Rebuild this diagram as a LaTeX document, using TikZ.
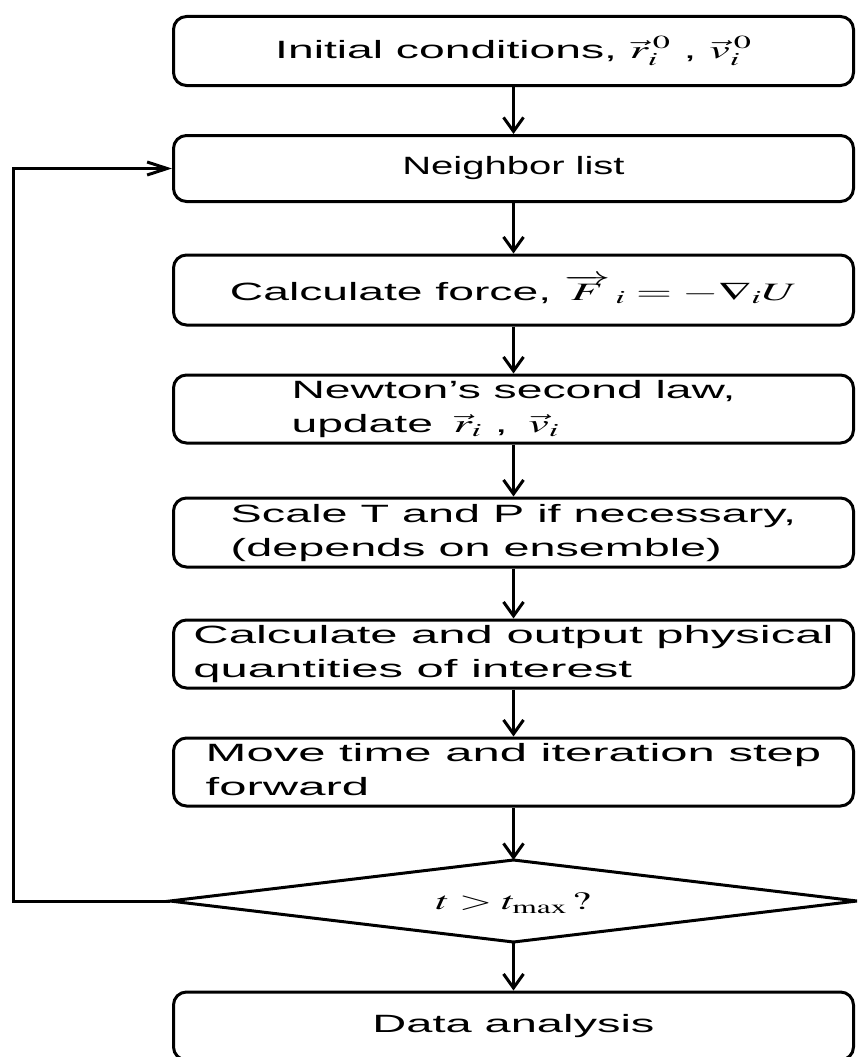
\documentclass[tikz,border=0pt]{standalone}
\usepackage{mathptmx}
\usepackage[no-math]{fontspec}
\setmainfont{Liberation Sans}
\usepackage{graphicx}
\usetikzlibrary{arrows.meta}

% horizontally widened lettering
\newcommand{\wtext}[2][1.85]{\scalebox{#1}[1]{#2}}
\newcommand{\wlines}[2][1.85]{\scalebox{#1}[1]{\begin{tabular}{@{}l@{}}#2\end{tabular}}}

\tikzset{
  stepbox/.style={draw, line width=3pt, rounded corners=13pt,
    minimum width=680pt, minimum height=68pt, inner sep=0pt,
    font=\fontsize{25}{34}\selectfont},
  flow/.style={line width=3pt,
    -{Straight Barb[length=14pt,width=20pt,line width=3pt]}},
  back/.style={line width=3pt,
    -{Straight Barb[length=20pt,width=13pt,line width=3pt]}},
  testline/.style={line width=3pt, line join=miter},
}

\begin{document}
\begin{tikzpicture}[x=1pt,y=-1pt]
\useasboundingbox (0,0) rectangle (857,1057);
\clip (0,0) rectangle (857,1057);

% process steps
\node[stepbox, minimum height=69pt] (b1) at (513.5,51)
  {\wtext{Initial conditions, $\vec{r}^{\,0}_{i}$ , $\vec{v}^{\,0}_{i}$}};
\node[stepbox, minimum height=66pt] (b2) at (513.5,168.5)
  {\wtext[1.6]{Neighbor list}};
\node[stepbox, minimum height=70pt] (b3) at (513.5,290)
  {\wtext{Calculate force, $\overrightarrow{F}\,{}_{i} = -\nabla_{i} U$}};
\node[stepbox, minimum height=68pt] (b4) at (513.5,409)
  {\wlines{Newton's second law,\\ update \,$\vec{r}_{i}$ , \,$\vec{v}_{i}$}};
\node[stepbox, minimum height=69pt] (b5) at (513.5,532.5)
  {\wlines[1.87]{Scale T and P if necessary,\\ (depends on ensemble)}};
\node[stepbox, minimum height=66pt] (b6) at (513.5,654)
  {\wlines[1.96]{Calculate and output physical\\ quantities of interest}};
\node[stepbox, minimum height=66pt] (b7) at (513.5,772)
  {\wlines[1.96]{Move time and iteration step\\ forward}};

% loop test
\coordinate (dt) at (513.5,860);
\coordinate (dr) at (857,901);
\coordinate (db) at (513.5,942);
\coordinate (dl) at (170,901);
\draw[testline] (dl) -- (dt) -- (dr) -- (db) -- cycle;
\node[font=\fontsize{25}{32}\selectfont] (test) at (513.5,903)
  {\wtext[1.7]{$t > t_{\max}\,?$}};

\node[stepbox] (b8) at (513.5,1026) {\wtext[1.88]{Data analysis}};

% connectors
\draw[flow] (b1.south) -- (b2.north);
\draw[flow] (b2.south) -- (b3.north);
\draw[flow] (b3.south) -- (b4.north);
\draw[flow] (b4.south) -- (b5.north);
\draw[flow] (b5.south) -- (b6.north);
\draw[flow] (b6.south) -- (b7.north);
\draw[flow] (b7.south) -- (dt);
\draw[flow] (db) -- (b8.north);

% return path to the neighbour list
\coordinate (bend) at (13,901);
\draw[back] (dl) -- (bend) |- (b2.west);
\end{tikzpicture}
\end{document}
